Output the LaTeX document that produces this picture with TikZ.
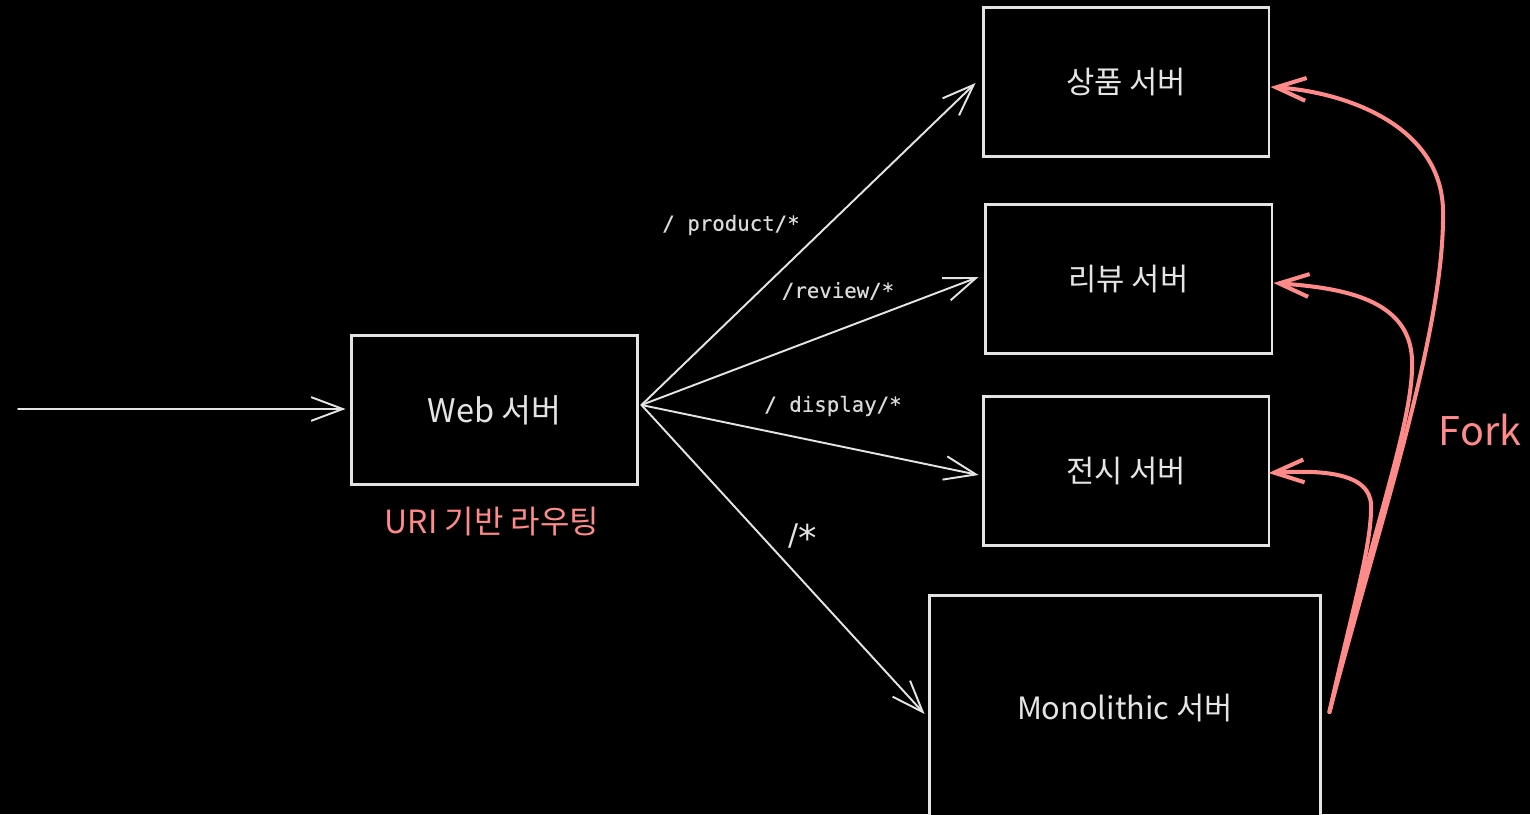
\documentclass[tikz,border=0pt]{standalone}
\usepackage{fontspec}
\newfontfamily\kr{Noto Sans CJK KR}
\newfontfamily\monof[FakeBold=0.4]{DejaVu Sans Mono}
\newfontfamily\dejav{DejaVu Sans}
\usetikzlibrary{arrows.meta,calc}
\definecolor{fg}{HTML}{E4E4E4}
\definecolor{lbl}{HTML}{DADADA}
\definecolor{fork}{HTML}{FF8A8A}
\tikzset{
  box/.style={draw=fg, line width=1.7pt, fill=black, text=fg, inner sep=0pt,
    font=\kr\fontsize{17.5}{20}\selectfont},
  conn/.style={draw=fg, line width=1.1pt, line cap=round,
    -{Straight Barb[length=18pt,width=13.5pt,line width=1.1pt]}},
  forkarrow/.style={draw=fork, line width=2.3pt, line cap=round,
    -{Straight Barb[length=17pt,width=13pt,line width=2.3pt]}},
  route/.style={text=lbl, font=\monof\fontsize{11.8}{14}\selectfont, inner sep=0pt},
  redlabel/.style={text=fork, inner sep=0pt}
}
\begin{document}
\begin{tikzpicture}[x=0.02cm,y=-0.02cm]
\fill[black] (0,0) rectangle (1530,814);
\useasboundingbox (0,0) rectangle (1530,814);
\clip (0,0) rectangle (1530,814);

\node[box, minimum width=5.74cm, minimum height=3.0cm, font=\kr\fontsize{18.5}{20}\selectfont] (web) at (494.5,410) {Web 서버};
\node[box, minimum width=5.72cm, minimum height=3.0cm] (p) at (1126,82) {상품 서버};
\node[box, minimum width=5.74cm, minimum height=3.0cm] (r) at (1128.5,279) {리뷰 서버};
\node[box, minimum width=5.72cm, minimum height=3.0cm] (d) at (1126,471) {전시 서버};
\node[box, minimum width=7.84cm, minimum height=4.5cm] (m) at (1125,707.5) {Monolithic 서버};

\coordinate (in) at (18,409);
\draw[conn] (in) -- ($(web.west)+(-4,-1)$);

\coordinate (src) at ($(web.east)+(2,-5)$);
\draw[conn] (src) -- ($(p.west)+(-6,1)$);
\draw[conn] (src) -- ($(r.west)+(-5,-2)$);
\draw[conn] (src) -- ($(d.west)+(-3,4)$);
\draw[conn] (src) -- ($(m.west)+(-3,6.5)$);

\node[route] (lp) at (731,225) {/ product/*};
\node[route] (lr) at (838,291) {/review/*};
\node[route] (ld) at (833,406) {/ display/*};
\node[text=fg, inner sep=0pt, font=\dejav\fontsize{17}{20}\selectfont] (la) at (803,538) {/\raisebox{-0.2em}{\fontsize{21}{22}\selectfont *}};

\node[redlabel, font=\kr\fontsize{18.2}{20}\selectfont] (uri) at (492,522) {URI 기반 라우팅};
\node[redlabel, font=\kr\fontsize{22.5}{24}\selectfont] (fk) at (1480,430) {Fork};

\coordinate (fs) at ($(m.east)+(7,4.5)$);
\draw[forkarrow] (fs) .. controls (1380,520) and (1445,330) .. (1443,210)
  .. controls (1441,125) and (1345,92) .. ($(p.east)+(0,5)$);
\draw[forkarrow] (fs) .. controls (1375,520) and (1414,420) .. (1412,360)
  .. controls (1410,300) and (1345,288) .. ($(r.east)+(0,4)$);
\draw[forkarrow] (fs) .. controls (1352,610) and (1372,545) .. (1371,505)
  .. controls (1370,472) and (1320,470) .. ($(d.east)+(-2,2)$);
\end{tikzpicture}
\end{document}
